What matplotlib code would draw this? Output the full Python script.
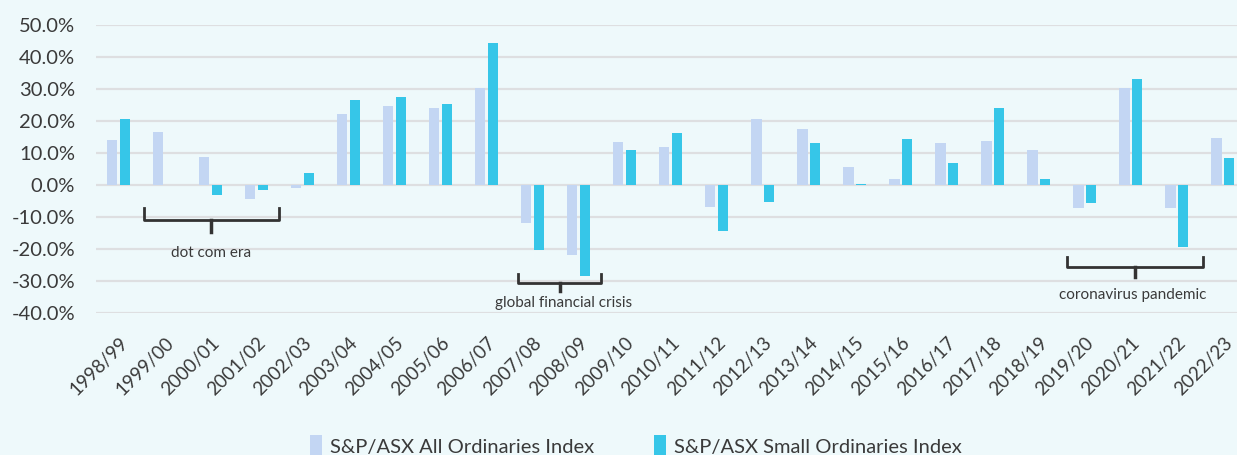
import numpy as np
import matplotlib
matplotlib.use("Agg")
import matplotlib.pyplot as plt
import matplotlib.transforms as mtransforms

years = ["1998/99", "1999/00", "2000/01", "2001/02", "2002/03", "2003/04", "2004/05",
         "2005/06", "2006/07", "2007/08", "2008/09", "2009/10", "2010/11", "2011/12",
         "2012/13", "2013/14", "2014/15", "2015/16", "2016/17", "2017/18", "2018/19",
         "2019/20", "2020/21", "2021/22", "2022/23"]
all_ords = [14.0, 16.7, 8.8, -4.3, -1.0, 22.3, 24.7, 24.1, 30.2, -11.9, -22.0, 13.5, 11.9,
            -6.8, 20.5, 17.6, 5.5, 1.8, 13.0, 13.6, 10.9, -7.2, 30.2, -7.2, 14.7]
small_ords = [20.7, 0.0, -3.2, -1.7, 3.7, 26.7, 27.4, 25.4, 44.4, -20.2, -28.5, 11.0, 16.4,
              -14.4, -5.2, 13.0, 0.3, 14.4, 6.9, 24.2, 1.8, -5.5, 33.2, -19.4, 8.3]
y_ticks = [-40, -30, -20, -10, 0, 10, 20, 30, 40, 50]

# (label, x start, x end, bracket top, bracket line, tip, text x, text y)
periods = [
    ("dot com era", 0.54, 3.48, -7.2, -11.0, -14.8, 2.01, -21.4),
    ("global financial crisis", 8.67, 10.48, -27.7, -30.5, -33.0, 9.67, -36.8),
    ("coronavirus pandemic", 20.6, 23.57, -22.6, -25.5, -28.6, 22.04, -34.3),
]

bg = "#eef9fb"
light = "#c3d6f3"
dark = "#36c6e8"
txt = "#3a3a3a"

plt.rcParams["font.family"] = ["Lato", "DejaVu Sans"]

fig = plt.figure(figsize=(12.37, 4.55), dpi=100, facecolor=bg)
ax = fig.add_axes([96 / 1237, (455 - 313) / 455, (1237 - 96) / 1237, 288 / 455])
ax.set_facecolor(bg)

x = np.arange(len(years))
w = 0.22
ax.bar(x - 0.145, all_ords, w, color=light, linewidth=0,
       label="S&P/ASX All Ordinaries Index", zorder=3)
ax.bar(x + 0.135, small_ords, w, color=dark, linewidth=0,
       label="S&P/ASX Small Ordinaries Index", zorder=3)

ax.set_ylim(-40, 50)
ax.set_xlim(-0.5, 24.3)
ax.set_yticks(y_ticks)
ax.set_yticklabels([f"{v:.1f}%" for v in y_ticks], fontsize=14.5, color=txt)
ax.set_xticks(x)
ax.set_xticklabels(years, rotation=45, ha="right", rotation_mode="anchor",
                   fontsize=13.5, color=txt)
shift = mtransforms.ScaledTranslation(-6 / 100, 0, fig.dpi_scale_trans)
for lbl in ax.get_xticklabels():
    lbl.set_transform(lbl.get_transform() + shift)
ax.tick_params(axis="y", length=0, pad=15)
ax.tick_params(axis="x", length=0, pad=15)
ax.grid(axis="y", color="#dedfe1", linewidth=1.6, zorder=0)
for s in ax.spines.values():
    s.set_visible(False)

for label, x0, x1, top, mid, tip, tx, ty in periods:
    xc = (x0 + x1) / 2
    ax.plot([x0, x0, x1, x1], [top, mid, mid, top], color="#333333", lw=2,
            solid_joinstyle="round", zorder=4, clip_on=False)
    ax.plot([xc, xc], [mid, tip], color="#333333", lw=2.5, zorder=4, clip_on=False)
    ax.text(tx, ty, label, ha="center", va="center", fontsize=11, color=txt)

fig.legend(loc="center", bbox_to_anchor=(0.514, 0.02), ncol=2, frameon=False,
           fontsize=14.5, handlelength=0.6, handleheight=1.3, handletextpad=0.4,
           columnspacing=3.0, labelcolor=txt)

fig.savefig("out.png", dpi=100, facecolor=bg)
